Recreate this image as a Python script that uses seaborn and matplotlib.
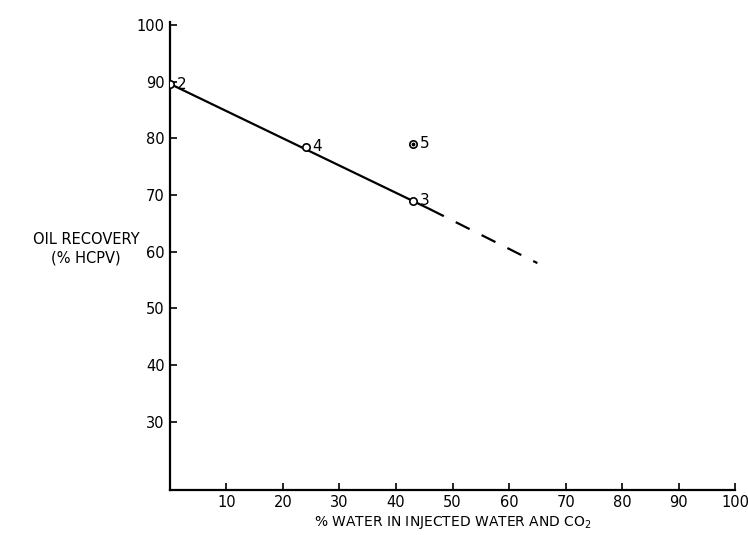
import matplotlib
matplotlib.use("Agg")
import matplotlib.pyplot as plt
import seaborn as sns
import pandas as pd

# Data
run_x = [0, 24, 43, 43]
run_y = [89.5, 78.5, 79.0, 69.0]
run_labels = ["2", "4", "5", "3"]

trend_solid_x = [0, 46]
trend_solid_y = [89.6, 67.5]
trend_dash_x = [46, 65]
trend_dash_y = [67.5, 58.0]

x_ticks = [10, 20, 30, 40, 50, 60, 70, 80, 90, 100]
y_ticks = [30, 40, 50, 60, 70, 80, 90, 100]

sns.set_theme(style="white")
plt.rcParams['font.family'] = ['DejaVu Sans']
plt.rcParams['text.color'] = 'black'
plt.rcParams['axes.labelcolor'] = 'black'

fig = plt.figure(figsize=(7.48, 5.35), dpi=100)
ax = fig.add_axes([0.227, 0.084, 0.756, 0.875])

runs = pd.DataFrame({"x": run_x, "y": run_y, "label": run_labels})
solid = pd.DataFrame({"x": trend_solid_x, "y": trend_solid_y})
dash = pd.DataFrame({"x": trend_dash_x, "y": trend_dash_y})

sns.lineplot(data=solid, x="x", y="y", ax=ax, color="black", lw=1.6)
sns.lineplot(data=dash, x="x", y="y", ax=ax, color="black", lw=1.6)
ax.lines[-1].set_dashes([7, 6])
sns.scatterplot(data=runs, x="x", y="y", ax=ax, marker="o", s=28,
                facecolor="white", edgecolor="black", linewidth=1.2, zorder=5)
for xv, yv, lab in zip(run_x, run_y, run_labels):
    ax.annotate(lab, (xv, yv), xytext=(5, 0), textcoords="offset points",
                fontsize=11, va="center", ha="left", color="black")
# dot inside run 5
ax.scatter([run_x[2]], [run_y[2]], s=3, color="black", zorder=6)

ax.set_xlim(0, 100)
ax.set_ylim(18, 100.5)
ax.set_xticks(x_ticks)
ax.set_yticks(y_ticks)
ax.tick_params(direction="in", length=5, width=1.2, labelsize=10.5, colors="black",
               left=True, bottom=True)
for s in ["top", "right"]:
    ax.spines[s].set_visible(False)
for s in ["left", "bottom"]:
    ax.spines[s].set_color("black")
    ax.spines[s].set_linewidth(1.6)

ax.set_xlabel("% WATER IN INJECTED WATER AND CO$_2$", fontsize=10, labelpad=3,
              color="black")
ax.set_ylabel("")
fig.text(0.115, 0.535, "OIL RECOVERY\n(% HCPV)", fontsize=10.5, ha="center",
         va="center", linespacing=1.3, color="black")

fig.savefig("out.png", dpi=100)
